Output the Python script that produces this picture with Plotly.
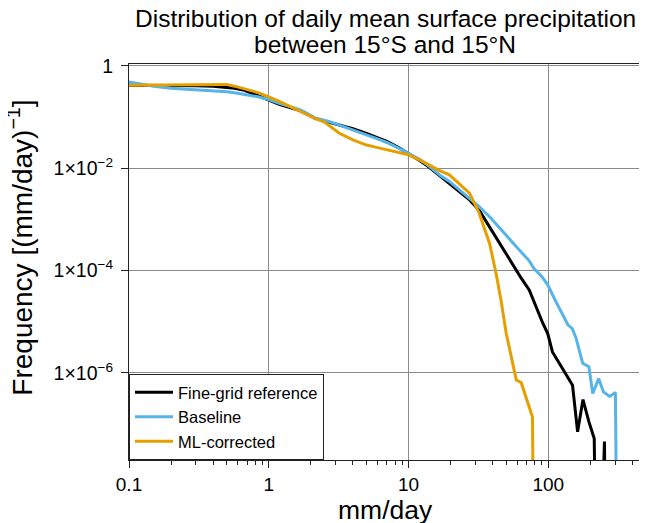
import plotly.graph_objects as go

# empty-bin floor (zero counts) drawn below the axis bottom
FLOOR = 1e-12

fine_x = [0.1, 0.15, 0.2, 0.3, 0.4, 0.5, 0.57, 0.67, 0.8, 1.0, 1.2, 1.5, 1.7, 2.14, 2.7, 3.2, 4.0, 5.0, 6.0, 7.0, 8.5,
          10, 12, 14, 17, 19.6, 23, 27.3, 32, 38, 44.7, 50, 57, 64, 73, 82, 91, 99, 107, 118, 130, 141, 149, 162, 177,
          195, 213, 225, 252, 265]
fine_logy = [-0.38, -0.38, -0.385, -0.39, -0.40, -0.42, -0.44, -0.48, -0.56, -0.67, -0.76, -0.84, -0.88, -1.03, -1.10,
             -1.15, -1.23, -1.32, -1.40, -1.48, -1.60, -1.71, -1.85, -1.98, -2.17, -2.30, -2.45, -2.62, -2.82, -3.15,
             -3.47, -3.68, -3.93, -4.15, -4.38, -4.72, -5.02, -5.23, -5.59, -5.78, -5.98, -6.12, -6.24, -7.15, -6.52,
             -6.95, -7.28, None, -7.34, None]

base_x = [0.1, 0.15, 0.2, 0.3, 0.4, 0.5, 0.6, 0.7, 0.85, 1.0, 1.2, 1.5, 1.7, 2.14, 2.7, 3.2, 4.0, 5.0, 6.0, 7.0, 8.5,
          10, 12, 14, 17, 19.6, 23, 27.3, 32, 38, 45, 52.6, 62, 73, 79, 90, 99, 112, 125, 138, 148, 158, 176, 195,
          208, 229, 248, 262, 275, 302, 315]
base_logy = [-0.32, -0.40, -0.44, -0.47, -0.49, -0.51, -0.54, -0.57, -0.61, -0.66, -0.74, -0.82, -0.87, -1.02, -1.09,
             -1.16, -1.25, -1.35, -1.43, -1.50, -1.61, -1.71, -1.83, -1.96, -2.15, -2.26, -2.42, -2.59, -2.75, -2.95,
             -3.18, -3.38, -3.60, -3.81, -3.96, -4.12, -4.28, -4.58, -4.82, -5.06, -5.13, -5.32, -5.81, -5.88, -6.40,
             -6.11, -6.37, -6.42, -6.46, -6.38, None]

ml_x = [0.1, 0.15, 0.2, 0.3, 0.4, 0.45, 0.5, 0.57, 0.65, 0.75, 0.85, 1.0, 1.2, 1.5, 1.7, 2.14, 2.5, 3.2, 4.0, 5.0, 6.0,
        7.0, 8.5, 10, 12, 14, 17, 19.6, 23, 27.3, 32, 38, 42.3, 46, 50, 55, 59, 64, 70, 77, 80]
ml_logy = [-0.38, -0.375, -0.37, -0.36, -0.355, -0.355, -0.365, -0.40, -0.44, -0.49, -0.53, -0.61, -0.70, -0.83,
           -0.90, -1.03, -1.10, -1.32, -1.45, -1.55, -1.60, -1.64, -1.69, -1.74, -1.84, -1.94, -2.06, -2.13, -2.30,
           -2.49, -2.88, -3.47, -4.06, -4.60, -5.23, -5.75, -6.14, -6.19, -6.50, -6.86, None]

series = [
    ("Fine-grid reference", fine_x, fine_logy, "#000000"),
    ("Baseline", base_x, base_logy, "#56B4E9"),
    ("ML-corrected", ml_x, ml_logy, "#E69F00"),
]

title_lines = ["Distribution of daily mean surface precipitation", "between 15°S and 15°N"]
x_title = "mm/day"
y_title = "Frequency [(mm/day)<sup>−1</sup>]"
y_tickvals = [1, 1e-2, 1e-4, 1e-6]
y_ticktext = ["1", "1×10<sup>−2</sup>", "1×10<sup>−4</sup>", "1×10<sup>−6</sup>"]
x_tickvals = [0.1, 1, 10, 100]
x_ticktext = ["0.1", "1", "10", "100"]
x_minor = [m * d for d in (0.1, 1, 10, 100) for m in range(2, 10) if m * d <= 460]

fig = go.Figure()
for name, xs, lys, col in series:
    ys = [10 ** v if v is not None else FLOOR for v in lys]
    fig.add_trace(go.Scatter(x=xs, y=ys, mode="lines", name=name,
                             line=dict(color=col, width=3)))

FONT = "Liberation Sans, Arial, Helvetica, sans-serif"

# titles as annotations (tight line spacing like the reference)
for txt, yy in zip(title_lines, [1.1155, 1.0499]):
    fig.add_annotation(text=txt, xref="paper", yref="paper", x=0.5, y=yy,
                       xanchor="center", yanchor="middle", showarrow=False,
                       font=dict(size=24.5, family=FONT, color="black"))
fig.add_annotation(text=x_title, xref="paper", yref="paper", x=0.5, y=-0.1255,
                   xanchor="center", yanchor="middle", showarrow=False,
                   font=dict(size=26.5, family=FONT, color="black"))
fig.add_annotation(text=y_title, xref="paper", yref="paper", x=-0.213, y=0.536,
                   xanchor="center", yanchor="middle", showarrow=False, textangle=-90,
                   font=dict(size=28, family=FONT, color="black"))

fig.update_layout(
    width=639, height=515,
    margin=dict(l=121, r=6, t=56, b=63),
    paper_bgcolor="white", plot_bgcolor="white",
    font=dict(family=FONT, color="black"),
    showlegend=True,
    legend=dict(x=0, y=0, xanchor="left", yanchor="bottom",
                bgcolor="white", bordercolor="#222", borderwidth=1,
                font=dict(size=16.5, family=FONT, color="black"),
                itemwidth=38, tracegroupgap=0),
    xaxis=dict(type="log", range=[-1, 2.663],
               tickmode="array", tickvals=x_tickvals, ticktext=x_ticktext,
               ticks="outside", ticklen=7, tickcolor="#222",
               tickfont=dict(size=19, family=FONT, color="black"),
               showgrid=True, gridcolor="#8a8a8a", gridwidth=1,
               showline=True, linecolor="#222", linewidth=1, mirror=True,
               zeroline=False,
               minor=dict(tickmode="array", tickvals=x_minor, ticks="outside",
                          ticklen=4, tickcolor="#222", showgrid=False)),
    yaxis=dict(type="log", range=[-7.7, 0.033],
               tickmode="array", tickvals=y_tickvals, ticktext=y_ticktext,
               ticks="outside", ticklen=7, tickcolor="#222", ticklabelstandoff=4,
               tickfont=dict(size=19.5, family=FONT, color="black"),
               showgrid=True, gridcolor="#8a8a8a", gridwidth=1,
               showline=True, linecolor="#222", linewidth=1, mirror=True,
               zeroline=False),
)

fig.write_html("out.html")
